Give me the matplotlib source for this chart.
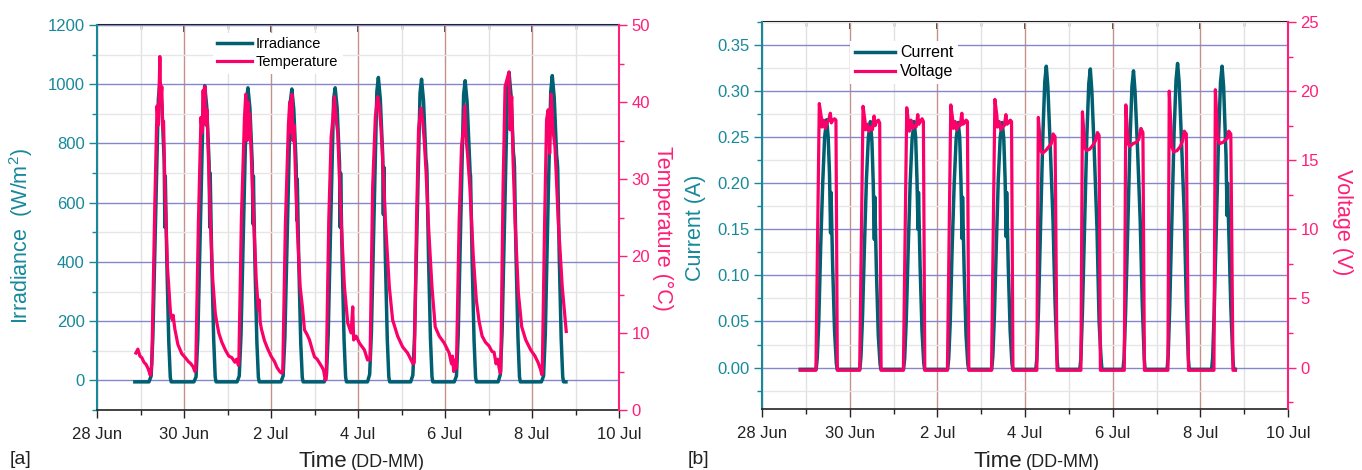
import matplotlib
matplotlib.use("Agg")
import matplotlib.pyplot as plt
from matplotlib.ticker import MultipleLocator

plt.rcParams["font.family"] = ["Liberation Sans", "DejaVu Sans"]
plt.rcParams["mathtext.default"] = "regular"

# x values are days counted from 28 Jun 00:00
date_ticks = [0, 2, 4, 6, 8, 10, 12]
date_labels = ["28 Jun", "30 Jun", "2 Jul", "4 Jul", "6 Jul", "8 Jul", "10 Jul"]

# ---- panel [a] : irradiance (W/m2) ----
irr_t = [0.87,
         1.195, 1.245, 1.285, 1.355, 1.41, 1.445, 1.49, 1.545, 1.56, 1.57, 1.605, 1.65, 1.685, 1.705,
         2.227, 2.277, 2.317, 2.387, 2.442, 2.477, 2.522, 2.577, 2.592, 2.602, 2.637, 2.682, 2.717, 2.737,
         3.22, 3.27, 3.31, 3.38, 3.435, 3.47, 3.515, 3.57, 3.585, 3.595, 3.63, 3.675, 3.71, 3.73,
         4.229, 4.279, 4.319, 4.389, 4.444, 4.479, 4.524, 4.579, 4.594, 4.604, 4.639, 4.684, 4.719, 4.739,
         5.225, 5.275, 5.315, 5.385, 5.44, 5.475, 5.52, 5.575, 5.59, 5.60, 5.635, 5.68, 5.715, 5.735,
         6.218, 6.268, 6.308, 6.378, 6.433, 6.468, 6.513, 6.568, 6.583, 6.593, 6.628, 6.673, 6.708, 6.728,
         7.211, 7.261, 7.301, 7.371, 7.426, 7.461, 7.506, 7.561, 7.576, 7.586, 7.621, 7.666, 7.701, 7.721,
         8.213, 8.263, 8.303, 8.373, 8.428, 8.463, 8.508, 8.563, 8.578, 8.588, 8.623, 8.668, 8.703, 8.723,
         9.222, 9.272, 9.312, 9.382, 9.437, 9.472, 9.517, 9.572, 9.587, 9.597, 9.632, 9.677, 9.712, 9.732,
         10.216, 10.266, 10.306, 10.376, 10.431, 10.466, 10.511, 10.566, 10.581, 10.591, 10.626, 10.671, 10.706, 10.726,
         10.78]
irr_v = [-5,
         -5, 15, 150, 600, 950, 1005, 930, 740, 517, 690, 400, 130, 10, -5,
         -5, 12, 140, 590, 940, 995, 925, 735, 517, 700, 410, 140, 12, -5,
         -5, 15, 150, 600, 945, 988, 920, 730, 528, 690, 400, 130, 10, -5,
         -5, 15, 145, 590, 940, 984, 915, 725, 540, 680, 395, 125, 10, -5,
         -5, 18, 155, 610, 950, 988, 920, 735, 517, 700, 410, 135, 12, -5,
         -5, 20, 160, 620, 975, 1023, 950, 760, 560, 720, 420, 140, 12, -5,
         -5, 18, 155, 615, 970, 1017, 945, 750, 730, 700, 415, 140, 12, -5,
         -5, 15, 150, 610, 965, 1012, 940, 745, 700, 690, 410, 135, 10, -5,
         -5, 20, 160, 630, 990, 1040, 965, 770, 750, 720, 425, 145, 12, -5,
         -5, 15, 155, 641, 975, 1029, 955, 760, 740, 715, 420, 140, 12, -5,
         -5]

# ---- panel [a] : module temperature (C) ----
temp_t = [0.894, 0.94, 0.986, 1.03, 1.08, 1.13, 1.18, 1.225, 1.24,
          1.26, 1.33, 1.38, 1.41, 1.445, 1.465, 1.49, 1.51, 1.53, 1.56, 1.62, 1.69, 1.73, 1.75, 1.79, 1.86,
          1.95, 2.03, 2.10, 2.16, 2.21, 2.25,
          2.27, 2.33, 2.39, 2.42, 2.44, 2.46, 2.48, 2.50, 2.53, 2.56, 2.61, 2.66, 2.72, 2.75, 2.80, 2.87,
          2.95, 3.03, 3.10, 3.17, 3.21, 3.25,
          3.26, 3.32, 3.39, 3.42, 3.45, 3.47, 3.49, 3.51, 3.54, 3.60, 3.66, 3.71, 3.73, 3.75, 3.78, 3.85,
          3.92, 4.00, 4.08, 4.14, 4.20, 4.24,
          4.27, 4.33, 4.40, 4.43, 4.46, 4.48, 4.50, 4.53, 4.56, 4.61, 4.67, 4.72, 4.77, 4.83, 4.885, 4.95,
          5.00, 5.06, 5.115, 5.17, 5.206, 5.25,
          5.268, 5.328, 5.383, 5.42, 5.459, 5.497, 5.534, 5.612, 5.688, 5.764, 5.842, 5.879, 5.90, 5.956,
          6.032, 6.147, 6.22, 6.26,
          6.277, 6.337, 6.399, 6.452, 6.491, 6.53, 6.567, 6.628, 6.72, 6.796, 6.911, 7.025, 7.14, 7.255, 7.28,
          7.294, 7.346, 7.392, 7.447, 7.484, 7.523, 7.562, 7.622, 7.70, 7.775, 7.867, 7.982, 8.096, 8.15,
          8.172, 8.20, 8.234, 8.255,
          8.264, 8.326, 8.379, 8.425, 8.456, 8.479, 8.517, 8.571, 8.65, 8.72, 8.784, 8.853, 8.93, 9.014,
          9.08, 9.128, 9.174, 9.21, 9.243, 9.27,
          9.282, 9.335, 9.381, 9.434, 9.472, 9.495, 9.534, 9.564, 9.61, 9.686, 9.764, 9.856, 9.97, 10.069,
          10.145, 10.2, 10.225,
          10.236, 10.291, 10.335, 10.373, 10.406, 10.443, 10.482, 10.528, 10.603, 10.695, 10.787]
temp_v = [7.4, 7.9, 7.0, 6.8, 6.2, 5.9, 5.3, 4.5, 4.9,
          6, 27, 39.5, 37, 45.9, 40, 42, 36.5, 37.5, 29, 18.5, 12.6, 11.7, 12.3, 10.5, 8.5,
          7.3, 6.8, 6.3, 6.0, 5.6, 5.0,
          5.4, 24, 38, 36, 41.5, 38, 42, 37, 39, 33, 24, 17, 12.5, 11.5, 10, 8.8,
          7.8, 7.0, 6.8, 6.2, 6.6, 5.8,
          6, 25, 38, 41, 35, 40, 36.5, 38.5, 34, 25, 17, 13, 14.3, 11.5, 10.5, 9,
          8, 7, 6.3, 5.5, 5.0, 4.8,
          5, 24, 37, 40, 36, 41, 35, 37, 31, 23, 16, 13.5, 10.4, 9.8, 9.1, 7.8,
          6.9, 6.6, 6.1, 5.6, 5.2, 3.9,
          4, 24.7, 35.5, 37.7, 40.7, 37.7, 36, 24.7, 16, 11.3, 10, 13.4, 9.1, 9.6,
          8.7, 7.8, 6.5, 6.6,
          6.5, 29, 38.1, 40.7, 39.4, 36.5, 32.5, 24.7, 16, 11.7, 9.6, 8.2, 7.4, 6.1, 6.0,
          6.2, 24.7, 36.5, 39.2, 37.7, 35, 31.2, 23.8, 16, 10.8, 9.6, 8.7, 7.4, 6.0,
          7.0, 5.0, 6.5, 5.4,
          6, 24.7, 34.2, 36.5, 39.5, 35.5, 33.3, 29, 20, 14.3, 11.5, 9.6, 8.8, 8.3,
          7.6, 7.5, 6.0, 6.6, 5.5, 4.8,
          5, 29, 42, 43.1, 43.9, 36.4, 40.7, 32.5, 24.7, 15.2, 10.8, 9.1, 7.8, 7.0,
          6.1, 5.2, 4.6,
          5, 24.7, 37.7, 39, 33.3, 41, 36.4, 34.2, 24.7, 16, 10.2]

# ---- panel [b] : current (A) ----
cur_t = [0.873,
         1.235, 1.26, 1.295, 1.338, 1.385, 1.429, 1.475, 1.51, 1.54, 1.565, 1.575, 1.612, 1.655, 1.695, 1.715,
         2.233, 2.258, 2.293, 2.336, 2.383, 2.427, 2.473, 2.508, 2.538, 2.563, 2.573, 2.61, 2.653, 2.693, 2.713,
         3.23, 3.255, 3.29, 3.333, 3.38, 3.424, 3.47, 3.505, 3.535, 3.56, 3.57, 3.607, 3.65, 3.69, 3.71,
         4.235, 4.26, 4.295, 4.338, 4.385, 4.429, 4.475, 4.51, 4.54, 4.565, 4.575, 4.612, 4.655, 4.695, 4.715,
         5.241, 5.266, 5.301, 5.344, 5.391, 5.435, 5.481, 5.516, 5.546, 5.571, 5.581, 5.618, 5.661, 5.701, 5.721,
         6.246, 6.271, 6.306, 6.358, 6.406, 6.451, 6.486, 6.521, 6.576, 6.639, 6.686, 6.731, 6.751,
         7.25, 7.275, 7.31, 7.362, 7.41, 7.455, 7.49, 7.525, 7.58, 7.643, 7.69, 7.735, 7.755,
         8.235, 8.26, 8.295, 8.347, 8.395, 8.44, 8.475, 8.51, 8.565, 8.628, 8.675, 8.72, 8.74,
         9.241, 9.266, 9.301, 9.353, 9.401, 9.446, 9.481, 9.516, 9.571, 9.634, 9.681, 9.726, 9.746,
         10.256, 10.281, 10.316, 10.368, 10.416, 10.461, 10.496, 10.531, 10.586, 10.61, 10.62, 10.649,
         10.696, 10.741, 10.761, 10.80]
cur_v = [-0.002,
         -0.002, 0.01, 0.05, 0.13, 0.20, 0.25, 0.269, 0.25, 0.21, 0.146, 0.19, 0.11, 0.04, 0.005, -0.002,
         -0.002, 0.012, 0.055, 0.13, 0.205, 0.25, 0.267, 0.245, 0.20, 0.139, 0.185, 0.105, 0.035, 0.004, -0.002,
         -0.002, 0.01, 0.05, 0.125, 0.20, 0.248, 0.267, 0.25, 0.205, 0.15, 0.19, 0.11, 0.04, 0.005, -0.002,
         -0.002, 0.01, 0.05, 0.13, 0.20, 0.248, 0.266, 0.25, 0.20, 0.14, 0.185, 0.105, 0.035, 0.004, -0.002,
         -0.002, 0.012, 0.055, 0.13, 0.205, 0.25, 0.266, 0.248, 0.205, 0.142, 0.19, 0.11, 0.04, 0.005, -0.002,
         -0.002, 0.01, 0.06, 0.16, 0.25, 0.31, 0.327, 0.305, 0.24, 0.16, 0.07, 0.01, -0.002,
         -0.002, 0.01, 0.06, 0.16, 0.25, 0.308, 0.324, 0.30, 0.235, 0.15, 0.05, 0.01, -0.002,
         -0.002, 0.01, 0.06, 0.155, 0.245, 0.305, 0.322, 0.30, 0.24, 0.16, 0.07, 0.01, -0.002,
         -0.002, 0.012, 0.065, 0.165, 0.255, 0.312, 0.330, 0.31, 0.245, 0.165, 0.07, 0.01, -0.002,
         -0.002, 0.01, 0.06, 0.16, 0.25, 0.31, 0.327, 0.305, 0.23, 0.165, 0.20, 0.15,
         0.065, 0.01, -0.002, -0.002]

# ---- panel [b] : voltage (V) ----
volt_t = [0.873,
          1.23, 1.307, 1.353, 1.367, 1.406, 1.445, 1.481, 1.52, 1.559, 1.582, 1.618, 1.657, 1.687, 1.719,
          2.228, 2.305, 2.351, 2.365, 2.404, 2.443, 2.479, 2.518, 2.557, 2.580, 2.616, 2.655, 2.685, 2.717,
          3.225, 3.302, 3.348, 3.362, 3.401, 3.44, 3.476, 3.515, 3.554, 3.577, 3.613, 3.652, 3.682, 3.714,
          4.23, 4.307, 4.353, 4.367, 4.406, 4.445, 4.481, 4.52, 4.559, 4.582, 4.618, 4.657, 4.687, 4.719,
          5.236, 5.313, 5.359, 5.373, 5.412, 5.451, 5.487, 5.526, 5.565, 5.588, 5.624, 5.663, 5.693, 5.725,
          6.27, 6.304, 6.361, 6.397, 6.473, 6.549, 6.601, 6.64, 6.686, 6.731,
          7.275, 7.31, 7.367, 7.40, 7.477, 7.553, 7.605, 7.653, 7.69, 7.72,
          8.265, 8.30, 8.355, 8.39, 8.465, 8.54, 8.595, 8.645, 8.69, 8.725,
          9.26, 9.291, 9.35, 9.39, 9.47, 9.545, 9.595, 9.634, 9.68, 9.73,
          10.31, 10.343, 10.40, 10.44, 10.52, 10.58, 10.62, 10.647, 10.695, 10.745, 10.80]
volt_v = [-0.2,
          -0.2, 19.1, 18.1, 17.4, 17.9, 17.3, 17.7, 17.9, 18.4, 17.7, 17.9, 18.0, 17.9, -0.2,
          -0.2, 18.9, 17.8, 17.2, 17.6, 17.1, 17.4, 17.2, 18.2, 17.5, 17.8, 17.9, 17.7, -0.2,
          -0.2, 18.8, 17.6, 17.1, 17.9, 17.3, 17.5, 17.4, 18.3, 17.6, 17.8, 18.0, 17.8, -0.2,
          -0.2, 19.0, 17.9, 17.3, 17.8, 17.2, 17.6, 17.5, 18.4, 17.6, 17.7, 17.9, 17.8, -0.2,
          -0.2, 19.4, 18.2, 17.4, 17.8, 17.2, 17.4, 17.5, 18.3, 17.6, 17.7, 17.9, 17.8, -0.2,
          -0.2, 18.1, 15.7, 15.5, 15.7, 16.0, 16.2, 16.9, 16.7, -0.2,
          -0.2, 18.5, 15.9, 15.7, 15.8, 16.1, 16.4, 17.0, 16.8, -0.2,
          -0.2, 19.0, 16.2, 16.0, 16.2, 16.3, 16.5, 17.3, 17.0, -0.2,
          -0.2, 20.0, 16.0, 15.6, 15.7, 16.0, 16.4, 17.1, 16.9, -0.2,
          -0.2, 20.1, 16.6, 16.2, 16.3, 16.5, 16.6, 17.1, 16.9, -0.2, -0.2]

TEAL = "#005f70"
TEAL_TXT = "#17899a"
PINK = "#fa0068"
PINK_TXT = "#ff1f78"
DARK = "#222222"
W, H = 1362, 470


def frame_axes(ax, ax2):
    # shared time axis, grid and spines for one panel
    ax.set_xlim(0, 12)
    ax.set_xticks(date_ticks)
    ax.set_xticklabels(date_labels)
    ax.xaxis.set_minor_locator(MultipleLocator(1))
    ax.tick_params(axis="x", which="major", direction="out", length=6, width=1,
                   color=DARK, labelcolor=DARK, labelsize=12, pad=6)
    ax.tick_params(axis="x", which="minor", direction="out", length=3.5, width=1, color=DARK)

    ax.set_axisbelow(True)
    ax.grid(which="minor", axis="x", color="#e2e2e2", lw=1.0)
    ax.grid(which="minor", axis="y", color="#e6e6e6", lw=1.0)
    ax.grid(which="major", axis="x", color="#c4928a", lw=1.0)
    ax.grid(which="major", axis="y", color="#8686cc", lw=1.0)

    top = ax.secondary_xaxis("top")
    top.set_xticks(date_ticks)
    top.xaxis.set_minor_locator(MultipleLocator(1))
    top.tick_params(axis="x", which="major", direction="in", length=5, width=1.2,
                    color=DARK, labeltop=False)
    top.tick_params(axis="x", which="minor", direction="in", length=3, width=1, color=DARK)
    top.spines["top"].set_color(DARK)
    top.spines["top"].set_linewidth(1.5)

    ax.spines["top"].set_visible(False)
    ax.spines["right"].set_visible(False)
    ax.spines["bottom"].set_color(DARK)
    ax.spines["bottom"].set_linewidth(1.2)
    ax.spines["left"].set_color(TEAL_TXT)
    ax.spines["left"].set_linewidth(1.5)
    ax.tick_params(axis="y", which="major", direction="out", length=6, width=1,
                   color=TEAL_TXT, labelcolor=TEAL_TXT, labelsize=12, pad=3)
    ax.tick_params(axis="y", which="minor", direction="out", length=3.5, width=1, color=TEAL_TXT)

    for side in ["top", "bottom", "left"]:
        ax2.spines[side].set_visible(False)
    ax2.spines["right"].set_color(PINK_TXT)
    ax2.spines["right"].set_linewidth(1.5)
    ax2.tick_params(axis="y", which="major", direction="out", length=6, width=1,
                    color=PINK_TXT, labelcolor=PINK_TXT, labelsize=12, pad=3)
    ax2.tick_params(axis="y", which="minor", direction="out", length=3.5, width=1, color=PINK_TXT)


fig = plt.figure(figsize=(W / 100, H / 100), dpi=100)

# panel [a]
ax_a = fig.add_axes([97 / W, 1 - 410 / H, 522 / W, 385 / H])
ax_a2 = ax_a.twinx()
frame_axes(ax_a, ax_a2)
ax_a.set_ylim(-100, 1200)
ax_a.set_yticks(range(0, 1201, 200))
ax_a.yaxis.set_minor_locator(MultipleLocator(100))
ax_a2.set_ylim(0, 50)
ax_a2.set_yticks(range(0, 51, 10))
ax_a2.yaxis.set_minor_locator(MultipleLocator(5))

l_irr, = ax_a.plot(irr_t, irr_v, color=TEAL, lw=2.5, label="Irradiance")
l_tmp, = ax_a2.plot(temp_t, temp_v, color=PINK, lw=2.3, label="Temperature")
ax_a2.legend(handles=[l_irr, l_tmp], loc="upper left", bbox_to_anchor=(0.222, 0.98),
             frameon=True, facecolor="white", edgecolor="none", framealpha=1, fancybox=False,
             fontsize=10.5, handlelength=2.4, handletextpad=0.25, labelspacing=0.3,
             borderpad=0.3, borderaxespad=0)

# panel [b]
ax_b = fig.add_axes([762 / W, 1 - 409 / H, 526 / W, 387 / H])
ax_b2 = ax_b.twinx()
frame_axes(ax_b, ax_b2)
ax_b.set_ylim(-0.045, 0.375)
ax_b.set_yticks([0.0, 0.05, 0.10, 0.15, 0.20, 0.25, 0.30, 0.35])
ax_b.set_yticklabels(["0.00", "0.05", "0.10", "0.15", "0.20", "0.25", "0.30", "0.35"])
ax_b.yaxis.set_minor_locator(MultipleLocator(0.025))
ax_b2.set_ylim(-3, 25)
ax_b2.set_yticks(range(0, 26, 5))
ax_b2.yaxis.set_minor_locator(MultipleLocator(2.5))

l_cur, = ax_b.plot(cur_t, cur_v, color=TEAL, lw=2.5, label="Current")
l_vol, = ax_b2.plot(volt_t, volt_v, color=PINK, lw=2.3, label="Voltage")
ax_b2.legend(handles=[l_cur, l_vol], loc="upper left", bbox_to_anchor=(0.167, 0.952),
             frameon=True, facecolor="white", edgecolor="none", framealpha=1, fancybox=False,
             fontsize=11.5, handlelength=2.5, handletextpad=0.35, labelspacing=0.25,
             borderpad=0.3, borderaxespad=0)

# axis titles, placed in figure pixels
lab = 15.5
fig.text(21 / W, 1 - 236 / H, "Irradiance  (W/m$^2$)", rotation=90, ha="center", va="center",
         fontsize=lab, color=TEAL_TXT)
fig.text(663 / W, 1 - 228 / H, "Temperature (°C)", rotation=270, ha="center", va="center",
         fontsize=lab, color=PINK_TXT)
fig.text(695 / W, 1 - 228 / H, "Current (A)", rotation=90, ha="center", va="center",
         fontsize=lab, color=TEAL_TXT)
fig.text(1342 / W, 1 - 222 / H, "Voltage (V)", rotation=270, ha="center", va="center",
         fontsize=lab, color=PINK_TXT)

for x_mid in [349, 1024]:
    fig.text((x_mid - 2) / W, 3 / H, "Time", ha="right", va="baseline", fontsize=16, color=DARK)
    fig.text((x_mid + 2) / W, 3 / H, "(DD-MM)", ha="left", va="baseline", fontsize=13, color=DARK)

fig.text(10 / W, 6 / H, "[a]", ha="left", va="baseline", fontsize=14, color=DARK)
fig.text(688 / W, 6 / H, "[b]", ha="left", va="baseline", fontsize=14, color=DARK)

fig.savefig("out.png", dpi=100)
